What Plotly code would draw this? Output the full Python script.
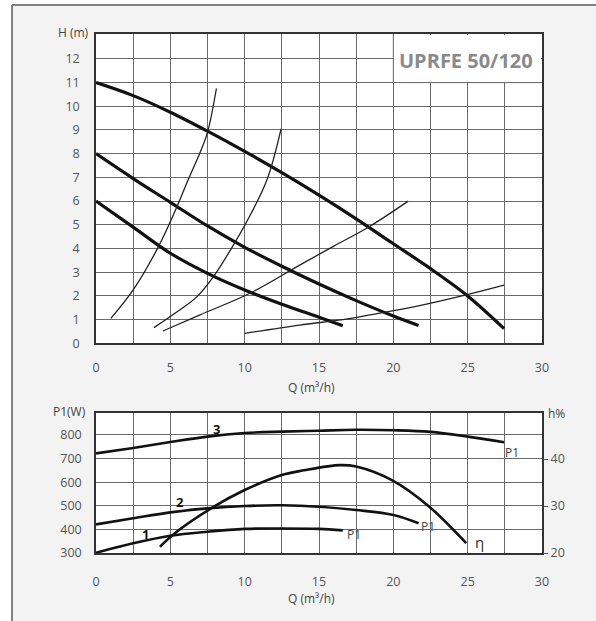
import plotly.graph_objects as go

W, H = 596, 621

# ---------- data ----------
# Top chart: pump curves H(Q)
pump3_q = [0, 2.5, 5, 7.5, 10, 12.5, 15, 17.5, 20, 22.5, 25, 27.45]
pump3_h = [11.0, 10.45, 9.75, 8.95, 8.1, 7.2, 6.25, 5.25, 4.2, 3.15, 2.0, 0.62]
pump2_q = [0, 2.5, 5, 7.5, 10, 12.5, 15, 17.5, 20, 21.7]
pump2_h = [8.0, 6.95, 5.95, 4.95, 4.05, 3.25, 2.5, 1.8, 1.15, 0.75]
pump1_q = [0, 2.5, 5, 7.5, 10, 12.5, 15, 16.6]
pump1_h = [6.0, 4.9, 3.8, 2.95, 2.25, 1.65, 1.1, 0.74]

# System curves
sys1_q = [1.0, 2.5, 4.2, 5.4, 6.2, 7.0, 7.5, 8.1]
sys1_h = [1.05, 2.25, 4.08, 5.7, 6.9, 8.05, 8.9, 10.75]
sys2_q = [3.9, 5.5, 6.8, 7.9, 9.2, 10.2, 11.5, 12.45]
sys2_h = [0.66, 1.35, 1.97, 2.81, 4.1, 5.2, 6.9, 9.05]
sys3_q = [4.5, 7.0, 10.35, 13.7, 16.0, 18.4, 21.0]
sys3_h = [0.52, 1.2, 2.11, 3.3, 4.1, 4.93, 6.0]
sys4_q = [10.0, 13.7, 16.6, 19.1, 22.0, 24.9, 27.45]
sys4_h = [0.42, 0.77, 1.0, 1.27, 1.62, 2.04, 2.45]

# Bottom chart: power P1(Q)
p3_q = [0, 2.5, 5, 7.5, 10, 12.5, 15, 17.5, 20, 22.5, 25, 27.45]
p3_w = [722, 745, 770, 793, 808, 814, 818, 822, 820, 813, 793, 769]
p2_q = [0, 2.5, 5, 7.5, 10, 12.5, 15, 17.5, 20, 21.7]
p2_w = [421, 447, 472, 489, 499, 502, 496, 482, 461, 426]
p1_q = [0, 2.5, 5, 7.5, 10, 12.5, 15, 16.6]
p1_w = [301, 341, 373, 390, 402, 404, 402, 396]
# Efficiency
eta_q = [4.3, 5.3, 7.9, 10, 12.5, 14, 16.4, 17.5, 19.9, 22.4, 24.9]
eta_p = [21.3, 24.2, 29.8, 33.4, 36.6, 37.6, 38.7, 38.4, 35.5, 29.9, 22.1]

q_ticks = [0, 5, 10, 15, 20, 25, 30]
h_ticks = list(range(0, 13))
w_ticks = [300, 400, 500, 600, 700, 800]
eta_ticks = [20, 30, 40]

title_text = "UPRFE 50/120"

# ---------- figure ----------
def px(x):
    return x / W

def py(y):
    return 1 - y / H

fig = go.Figure()

thick = dict(color="#111", width=3.2, shape="spline", smoothing=1.0)
thin = dict(color="#222", width=1.3, shape="spline", smoothing=1.0)
mid = dict(color="#111", width=2.6, shape="spline", smoothing=1.0)

for q, h in [(pump3_q, pump3_h), (pump2_q, pump2_h), (pump1_q, pump1_h)]:
    fig.add_trace(go.Scatter(x=q, y=h, mode="lines", line=thick, xaxis="x", yaxis="y", showlegend=False))
for q, h in [(sys1_q, sys1_h), (sys2_q, sys2_h), (sys3_q, sys3_h), (sys4_q, sys4_h)]:
    fig.add_trace(go.Scatter(x=q, y=h, mode="lines", line=thin, xaxis="x", yaxis="y", showlegend=False))

for q, w in [(p3_q, p3_w), (p2_q, p2_w), (p1_q, p1_w)]:
    fig.add_trace(go.Scatter(x=q, y=w, mode="lines", line=mid, xaxis="x2", yaxis="y2", showlegend=False))
fig.add_trace(go.Scatter(x=eta_q, y=eta_p, mode="lines", line=mid, xaxis="x2", yaxis="y3", showlegend=False))

tickfont = dict(family="Open Sans", size=12.5, color="#555")
grid = dict(showgrid=True, gridcolor="#6a6a6a", gridwidth=1, zeroline=False,
            showline=True, linecolor="#333", linewidth=1.5, mirror=True)

xdom = [px(96), px(542)]
fig.update_layout(
    width=W, height=H,
    margin=dict(l=0, r=0, t=0, b=0, autoexpand=False),
    paper_bgcolor="#f3f3f3",
    plot_bgcolor="white",
    xaxis=dict(domain=xdom, range=[0, 30], anchor="y", tickvals=q_ticks,
               tickfont=tickfont, ticklabelstandoff=12, **grid),
    yaxis=dict(domain=[py(343.3), py(34)], range=[0, 13.05], anchor="x",
               tickvals=h_ticks, tickfont=tickfont, ticklabelstandoff=12, **grid),
    xaxis2=dict(domain=xdom, range=[0, 30], anchor="y2", tickvals=q_ticks,
                tickfont=tickfont, ticklabelstandoff=16, **grid),
    yaxis2=dict(domain=[py(553), py(413)], range=[300, 893], anchor="x2",
                tickvals=w_ticks, tickfont=tickfont, ticklabelstandoff=10, **grid),
    yaxis3=dict(overlaying="y2", side="right", range=[20, 49.8], anchor="x2",
                tickvals=eta_ticks, tickfont=tickfont, showgrid=False, zeroline=False,
                ticks="outside", ticklen=5, tickcolor="#555", showline=False),
)

# vertical gridlines every 2.5
fig.update_xaxes(minor=dict(dtick=2.5, tick0=0, showgrid=True, gridcolor="#6a6a6a", gridwidth=1))

shapes = []
# white strips outside the outer frame
shapes.append(dict(type="rect", xref="paper", yref="paper", x0=0, x1=px(12), y0=0, y1=1,
                   fillcolor="white", line=dict(width=0), layer="below"))
shapes.append(dict(type="rect", xref="paper", yref="paper", x0=0, x1=1, y0=py(5), y1=1,
                   fillcolor="white", line=dict(width=0), layer="below"))
# frame lines
shapes.append(dict(type="line", xref="paper", yref="paper", x0=px(12), x1=px(12), y0=0, y1=py(5),
                   line=dict(color="#808080", width=2), layer="below"))
shapes.append(dict(type="line", xref="paper", yref="paper", x0=px(12), x1=1, y0=py(5), y1=py(5),
                   line=dict(color="#808080", width=2), layer="below"))
# white title box in top-right of upper chart
shapes.append(dict(type="rect", xref="x", yref="y", x0=20, x1=29.93, y0=11, y1=13.0,
                   fillcolor="white", line=dict(width=0), layer="above"))
shapes.append(dict(type="line", xref="x", yref="y", x0=20, x1=30, y0=11, y1=11,
                   line=dict(color="#6a6a6a", width=1), layer="above"))
shapes.append(dict(type="line", xref="x", yref="y", x0=20, x1=20, y0=11, y1=13.05,
                   line=dict(color="#6a6a6a", width=1), layer="above"))
fig.update_layout(shapes=shapes)

ann_font = dict(family="Open Sans", size=12, color="#444")
anns = [
    dict(x=px(91), y=py(32), text="H (m)", xanchor="right"),
    dict(x=px(311), y=py(387), text="Q (m³/h)", xanchor="center"),
    dict(x=px(311), y=py(598), text="Q (m³/h)", xanchor="center"),
    dict(x=px(88), y=py(412), text="P1(W)", xanchor="right"),
    dict(x=px(546), y=py(413), text="h%", xanchor="left"),
    dict(x=px(503), y=py(452), text="P1", xanchor="left"),
    dict(x=px(419), y=py(526), text="P1", xanchor="left"),
    dict(x=px(345), y=py(534), text="P1", xanchor="left"),
    dict(x=px(473), y=py(542), text="η", xanchor="left", font=dict(family="Open Sans", size=15, color="#333")),
    dict(x=px(216), y=py(429), text="<b>3</b>", xanchor="center", font=dict(family="Open Sans", size=13, color="#111")),
    dict(x=px(180), y=py(502), text="<b>2</b>", xanchor="center", font=dict(family="Open Sans", size=13, color="#111")),
    dict(x=px(145), y=py(534), text="<b>1</b>", xanchor="center", font=dict(family="Open Sans", size=13, color="#111")),
    dict(x=px(466), y=py(61), text="<b>" + title_text + "</b>", xanchor="center",
         font=dict(family="Open Sans", size=20, color="#8a8a8a")),
]
for a in anns:
    a.setdefault("font", ann_font)
    a.update(xref="paper", yref="paper", yanchor="middle", showarrow=False)
fig.update_layout(annotations=anns)

fig.write_html("out.html", config={"displayModeBar": False},
               post_script="document.body.style.margin='0px';")
